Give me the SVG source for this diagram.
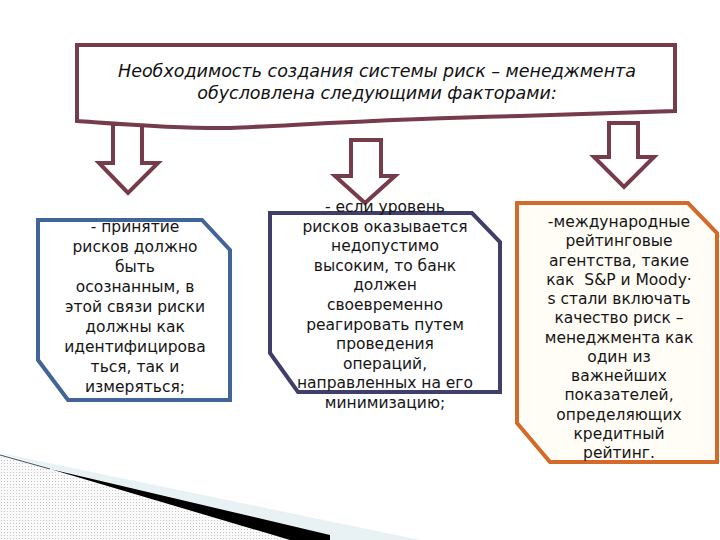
<svg xmlns="http://www.w3.org/2000/svg" width="720" height="540" viewBox="0 0 720 540">
<style>
.arrow{fill:#fff;stroke:#763c4c;stroke-width:4;stroke-linejoin:miter}
.title{font-family:"DejaVu Sans","Liberation Sans",sans-serif;font-style:italic;font-size:17.5px;fill:#111;text-anchor:middle}
.t{font-family:"DejaVu Sans","Liberation Sans",sans-serif;font-size:15.5px;fill:#151515;text-anchor:middle}
.box{stroke-width:4;stroke-linejoin:miter}
</style>
<defs>
<pattern id="dots" width="3" height="3" patternUnits="userSpaceOnUse">
<rect width="3" height="3" fill="#fafafa"/>
<rect x="1" y="1" width="1" height="1" fill="#c6c6c6"/>
</pattern>
</defs>
<rect width="720" height="540" fill="#fff"/>
<g id="decoration">
<polygon points="0,456 50,470 290,540 0,540" fill="url(#dots)"/>
<polygon points="0,453 420,540 330,540 50,468" fill="#e8f1f4"/>
<polygon points="50,469 330,535 330,540 290,540" fill="#000"/>
<line x1="0" y1="455" x2="50" y2="469" stroke="#4a5560" stroke-width="1.2"/>
</g>
<g id="connectors">
<polygon class="arrow" points="113,124 142,124 142,163 158,163 128,193 99,163 113,163"/>
<polygon class="arrow" points="351,140 381,140 381,176 395,176 365,203 335,176 351,176"/>
<polygon class="arrow" points="609,123 638,123 638,157 654,157 624,187 594,157 609,157"/>
</g>
<g id="title">
<path d="M77,45 L675,45 L675,111 L520,116 C400,118 300,125 230,128 C180,129 120,124 77,121 Z" fill="#fff" stroke="#763c4c" stroke-width="4" stroke-linejoin="miter"/>
<text class="title" x="377" y="77">Необходимость создания системы риск – менеджмента</text>
<text class="title" x="377" y="99">обусловлена следующими факторами:</text>
</g>
<g id="box-left">
<polygon class="box" points="38,220 202,220 230,250 230,400 68,400 38,360" fill="#fff" stroke="#41649a"/>
<text class="t" x="135" y="232">- принятие</text>
<text class="t" x="135" y="252">рисков должно</text>
<text class="t" x="135" y="272">быть</text>
<text class="t" x="135" y="292">осознанным, в</text>
<text class="t" x="135" y="312">этой связи риски</text>
<text class="t" x="135" y="332">должны как</text>
<text class="t" x="135" y="352">идентифицирова</text>
<text class="t" x="135" y="372">ться, так и</text>
<text class="t" x="135" y="392">измеряться;</text>
</g>
<g id="box-middle">
<polygon class="box" points="270,213 472,213 500,242 500,392 298,392 270,353" fill="#fff" stroke="#3f3f6a"/>
<text class="t" x="385" y="212">- если уровень</text>
<text class="t" x="385" y="231.6">рисков оказывается</text>
<text class="t" x="385" y="251.2">недопустимо</text>
<text class="t" x="385" y="270.8">высоким, то банк</text>
<text class="t" x="385" y="290.4">должен</text>
<text class="t" x="385" y="310">своевременно</text>
<text class="t" x="385" y="329.6">реагировать путем</text>
<text class="t" x="385" y="349.2">проведения</text>
<text class="t" x="385" y="368.8">операций,</text>
<text class="t" x="385" y="388.4">направленных на его</text>
<text class="t" x="385" y="408">минимизацию;</text>
</g>
<g id="box-right">
<polygon class="box" points="517,203 688,203 717,233 717,462 550,462 517,423" fill="#fffdf6" stroke="#d36a2a"/>
<text class="t" x="619" y="227">-международные</text>
<text class="t" x="619" y="246.25">рейтинговые</text>
<text class="t" x="619" y="265.5">агентства, такие</text>
<text class="t" x="619" y="284.75">как&#160; S&amp;P и Moody·</text>
<text class="t" x="619" y="304">s стали включать</text>
<text class="t" x="619" y="323.25">качество риск –</text>
<text class="t" x="619" y="342.5">менеджмента как</text>
<text class="t" x="619" y="361.75">один из</text>
<text class="t" x="619" y="381">важнейших</text>
<text class="t" x="619" y="400.25">показателей,</text>
<text class="t" x="619" y="419.5">определяющих</text>
<text class="t" x="619" y="438.75">кредитный</text>
<text class="t" x="619" y="458">рейтинг.</text>
</g>
</svg>
